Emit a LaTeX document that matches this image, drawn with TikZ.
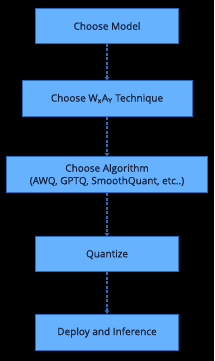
\documentclass[tikz,border=0pt]{standalone}
\usepackage{fontspec}
\setmainfont[FakeBold=0.6]{Open Sans}
\usetikzlibrary{arrows.meta}
\definecolor{boxfill}{HTML}{66B2FF}
\definecolor{boxedge}{HTML}{2B6CB8}
\definecolor{txt}{HTML}{16213A}
\definecolor{link}{HTML}{2E6BB8}
\tikzset{
  stepbox/.style={draw=boxedge, line width=1pt, fill=boxfill, text=txt, font=\fontsize{10}{12.5}\selectfont, align=center, inner sep=0pt, anchor=center},
  link/.style={draw=link, line width=1.2pt, dash pattern=on 3pt off 1.5pt, -{Triangle[length=3.5pt,width=4.5pt]}}
}
\begin{document}
\begin{tikzpicture}[x=1pt,y=1pt]
\fill[black] (0,0) rectangle (214,361);
\useasboundingbox (0,0) rectangle (214,361);
\node[stepbox, minimum width=143pt, minimum height=35pt] (a) at (107,335) {Choose Model};
\node[stepbox, minimum width=170pt, minimum height=36pt] (b) at (107,262) {Choose W\textsubscript{x}A\textsubscript{Y} Technique};
\node[stepbox, minimum width=201pt, minimum height=36pt] (c) at (107,186) {Choose Algorithm\\(AWQ, GPTQ, SmoothQuant, etc..)};
\node[stepbox, minimum width=143pt, minimum height=35pt] (d) at (107,106.5) {Quantize};
\node[stepbox, minimum width=143pt, minimum height=36pt] (e) at (107,28.5) {Deploy and Inference};
\draw[link] (a) -- (b);
\draw[link] (b) -- (c);
\draw[link] (c) -- (d);
\draw[link] (d) -- (e);
\end{tikzpicture}
\end{document}
